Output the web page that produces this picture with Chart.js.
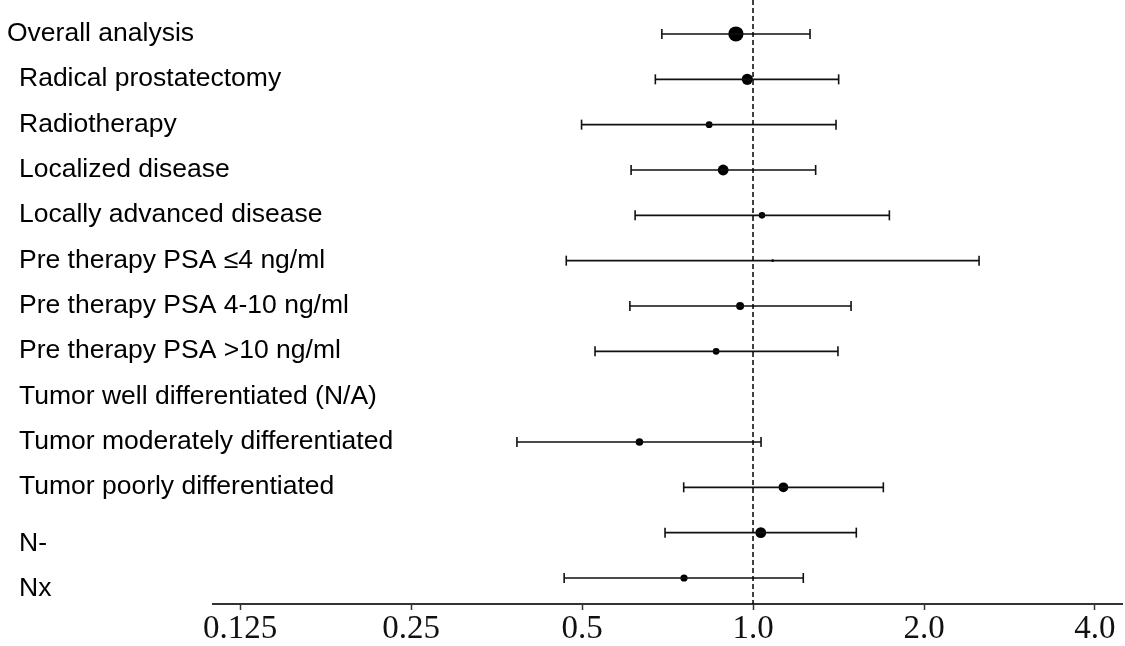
<!DOCTYPE html>
<html>
<head>
<meta charset="utf-8">
<script src="https://cdn.jsdelivr.net/npm/chart.js@4/dist/chart.umd.min.js"></script>
<style>
  html, body { margin: 0; padding: 0; background: #ffffff; }
  #wrap { width: 1125px; height: 646px; position: relative; }
</style>
</head>
<body>
<div id="wrap"><canvas id="forest"></canvas></div>
<script>
// Subgroups, top to bottom
const categories = [
  'Overall analysis',
  'Radical prostatectomy',
  'Radiotherapy',
  'Localized disease',
  'Locally advanced disease',
  'Pre therapy PSA \u22644 ng/ml',
  'Pre therapy PSA 4-10 ng/ml',
  'Pre therapy PSA >10 ng/ml',
  'Tumor well differentiated (N/A)',
  'Tumor moderately differentiated',
  'Tumor poorly differentiated',
  'N-',
  'Nx'
];

// Point estimates and 95% confidence limits (null = not available)
const estimate = [0.933, 0.977, 0.837, 0.886, 1.037, 1.083, 0.949, 0.861, null, 0.631, 1.131, 1.032, 0.756];
const lower    = [0.691, 0.673, 0.499, 0.610, 0.620, 0.469, 0.607, 0.527, null, 0.384, 0.755, 0.700, 0.465];
const upper    = [1.260, 1.415, 1.400, 1.289, 1.738, 2.500, 1.488, 1.411, null, 1.033, 1.696, 1.520, 1.226];

// Marker radius reflects the weight of each subgroup
const markerRadius = [7.6, 5.6, 3.4, 5.4, 3.3, 1.4, 4.0, 3.4, 0, 3.8, 4.9, 5.4, 3.6];

// Log-scale axis ticks
const tickValues = [0.125, 0.25, 0.5, 1, 2, 4];
const tickLabels = ['0.125', '0.25', '0.5', '1.0', '2.0', '4.0'];

// ----- styling / layout -----
const Y_MIN = -0.75, Y_MAX = 12.574;
const labelIndent = (i) => (i === 0 ? 7 : 19);
const labelExtraDrop = (i) => (i >= 11 ? 11 : 0);

const ciPoints = [];
categories.forEach((c, i) => {
  if (lower[i] == null) return;
  ciPoints.push({ x: lower[i], y: i }, { x: upper[i], y: i }, { x: null, y: null });
});

const estPoints = [];
const estRadius = [];
categories.forEach((c, i) => {
  if (estimate[i] == null) return;
  estPoints.push({ x: estimate[i], y: i });
  estRadius.push(markerRadius[i]);
});

const rowLabels = {
  id: 'rowLabels',
  afterDatasetsDraw(chart) {
    const { ctx } = chart;
    const y = chart.scales.y;
    ctx.save();
    ctx.fillStyle = '#000';
    ctx.font = '26.5px "Liberation Sans", Arial, sans-serif';
    ctx.textAlign = 'left';
    ctx.textBaseline = 'alphabetic';
    categories.forEach((label, i) => {
      const py = y.getPixelForValue(i) + 7 + labelExtraDrop(i);
      ctx.fillText(label, labelIndent(i), py);
    });
    ctx.restore();
  }
};

new Chart(document.getElementById('forest'), {
  type: 'scatter',
  data: {
    datasets: [
      {
        // line of no effect
        data: [{ x: 1, y: Y_MIN }, { x: 1, y: Y_MAX }],
        showLine: true,
        borderColor: '#000',
        borderWidth: 1.5,
        borderDash: [5, 3],
        pointRadius: 0
      },
      {
        // confidence intervals with end caps
        data: ciPoints,
        showLine: true,
        spanGaps: false,
        borderColor: '#111',
        borderWidth: 1.7,
        pointStyle: 'line',
        rotation: 90,
        pointRadius: 5,
        pointBorderWidth: 1.6,
        pointBorderColor: '#111',
        pointBackgroundColor: '#111'
      },
      {
        // point estimates
        data: estPoints,
        pointStyle: 'circle',
        pointRadius: estRadius,
        pointBackgroundColor: '#000',
        pointBorderColor: '#000',
        pointBorderWidth: 0
      }
    ]
  },
  options: {
    responsive: true,
    maintainAspectRatio: false,
    animation: false,
    events: [],
    layout: { autoPadding: false, padding: { left: 213, right: 3, top: 0, bottom: 0 } },
    plugins: { legend: { display: false }, tooltip: { enabled: false } },
    scales: {
      x: {
        type: 'logarithmic',
        position: 'bottom',
        min: 0.112,
        max: 4.463,
        afterBuildTicks(scale) {
          scale.ticks = tickValues.map(v => ({ value: v }));
        },
        afterFit(scale) {
          scale.height = 42;
          scale.paddingLeft = 0;
          scale.paddingRight = 0;
          scale.paddingTop = 0;
          scale.paddingBottom = 0;
        },
        ticks: {
          autoSkip: false,
          maxRotation: 0,
          padding: 0,
          color: '#111',
          font: { family: '"Liberation Serif", "Times New Roman", serif', size: 33 },
          callback: (value, index) => tickLabels[index]
        },
        grid: {
          display: true,
          drawOnChartArea: false,
          drawTicks: true,
          tickLength: 6,
          tickWidth: 1.5,
          tickColor: '#333'
        },
        border: { display: true, color: '#333', width: 2 }
      },
      y: {
        type: 'linear',
        display: false,
        reverse: true,
        min: Y_MIN,
        max: Y_MAX
      }
    }
  },
  plugins: [rowLabels]
});
</script>
</body>
</html>
